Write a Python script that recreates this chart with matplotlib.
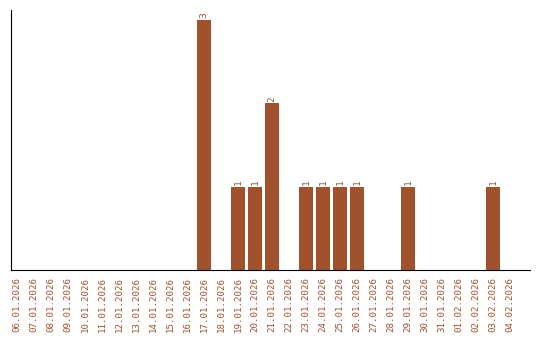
import matplotlib.pyplot as plt
import numpy as np

dates = ["06.01.2026", "07.01.2026", "08.01.2026", "09.01.2026", "10.01.2026",
         "11.01.2026", "12.01.2026", "13.01.2026", "14.01.2026", "15.01.2026",
         "16.01.2026", "17.01.2026", "18.01.2026", "19.01.2026", "20.01.2026",
         "21.01.2026", "22.01.2026", "23.01.2026", "24.01.2026", "25.01.2026",
         "26.01.2026", "27.01.2026", "28.01.2026", "29.01.2026", "30.01.2026",
         "31.01.2026", "01.02.2026", "02.02.2026", "03.02.2026", "04.02.2026"]
counts = [0, 0, 0, 0, 0, 0, 0, 0, 0, 0,
          0, 3, 0, 1, 1, 2, 0, 1, 1, 1,
          1, 0, 0, 1, 0, 0, 0, 0, 1, 0]

brown = "#a0522d"
font = "DejaVu Sans Mono"

fig = plt.figure(figsize=(5.4, 3.4), dpi=100)
ax = fig.add_axes([11 / 540, 70 / 340, 519 / 540, 260 / 340])

x = np.arange(len(dates))
ax.bar(x, counts, width=0.82, color=brown)

# value labels above non-empty bars
for xi, c in zip(x, counts):
    if c > 0:
        ax.text(xi, c + 0.02, str(c), rotation=90, ha="center", va="bottom",
                color=brown, fontsize=6.8, family=font)

ax.set_xlim(-6 / 17, 29 + 20 / 17)
ax.set_ylim(0, 3.12)
ax.set_xticks(x)
ax.set_xticklabels(dates, rotation=90, color=brown, fontsize=6.6, family=font)
ax.tick_params(axis="x", length=0, pad=5)
ax.set_yticks([])
ax.spines["top"].set_visible(False)
ax.spines["right"].set_visible(False)

fig.savefig("out.png", dpi=100)
